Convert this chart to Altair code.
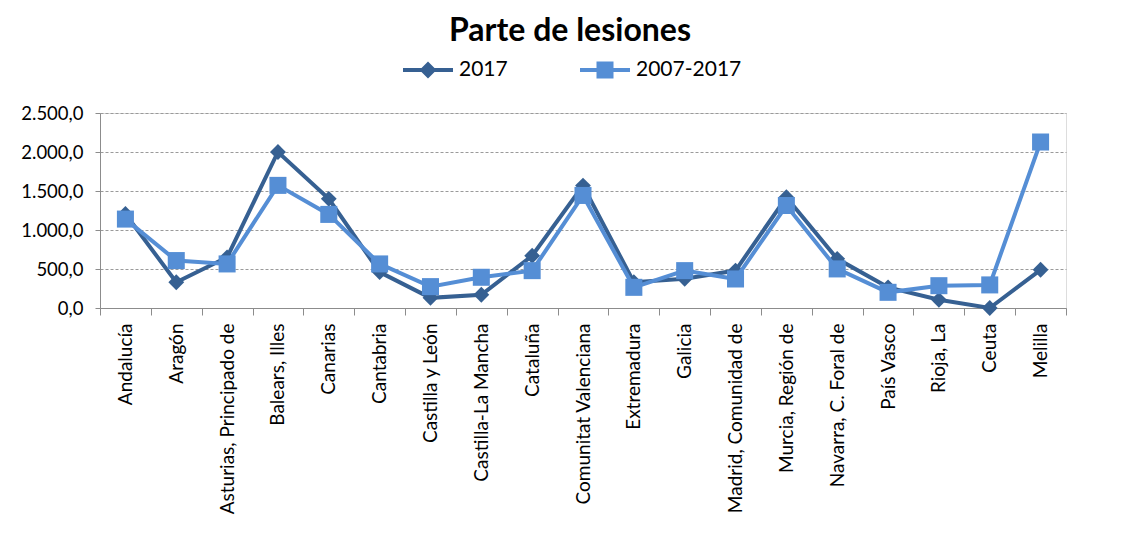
import altair as alt
import pandas as pd

categories = [
    "Andalucía", "Aragón", "Asturias, Principado de", "Balears, Illes", "Canarias",
    "Cantabria", "Castilla y León", "Castilla-La Mancha", "Cataluña",
    "Comunitat Valenciana", "Extremadura", "Galicia", "Madrid, Comunidad de",
    "Murcia, Región de", "Navarra, C. Foral de", "País Vasco", "Rioja, La",
    "Ceuta", "Melilla",
]
v2017 = [1205, 330, 650, 2000, 1400, 460, 130, 170, 670, 1570, 330, 375, 480,
         1420, 630, 265, 105, 0, 490]
v0717 = [1140, 608, 565, 1572, 1200, 565, 274, 394, 479, 1443, 265, 479, 372,
         1314, 501, 201, 286, 296, 2128]
series = ["2017", "2007-2017"]
colors = ["#366092", "#558ED5"]
shapes = ["diamond", "square"]

rows = []
for s, vals in zip(series, [v2017, v0717]):
    for c, v in zip(categories, vals):
        rows.append({"region": c, "valor": v, "serie": s})
df = pd.DataFrame(rows)

FONT = "Lato"

legend_paths = [
    "M-1,-0.08H1V0.08H-1Z M0,-0.34L0.34,0L0,0.34L-0.34,0Z",
    "M-1,-0.08H1V0.08H-1Z M-0.34,-0.34H0.34V0.34H-0.34Z",
]

x_enc = alt.X(
    "region:N",
    sort=categories,
    title=None,
    scale=alt.Scale(type="band", paddingInner=0, paddingOuter=0),
    axis=alt.Axis(
        labelAngle=-90,
        labelFontSize=19,
        labelFont=FONT,
        labelColor="#000000",
        labelPadding=8,
        labelLimit=300,
        tickBand="extent",
        tickSize=7,
        tickColor="#8c8c8c",
        domainColor="#8c8c8c",
        grid=False,
    ),
)
y_enc = alt.Y(
    "valor:Q",
    title=None,
    scale=alt.Scale(domain=[0, 2500], nice=False),
    axis=alt.Axis(
        values=[0, 500, 1000, 1500, 2000, 2500],
        labelExpr="replace(replace(replace(format(datum.value, ',.1f'), ',', '#'), '.', ','), '#', '.')",
        labelFontSize=18.5,
        labelFont=FONT,
        labelColor="#000000",
        labelPadding=12,
        tickSize=5,
        tickColor="#8c8c8c",
        domainColor="#8c8c8c",
        gridColor="#9a9a9a",
        gridDash=[3, 2],
        gridWidth=1,
    ),
)

legend = alt.Legend(
    title=None,
    orient="none",
    direction="horizontal",
    legendX=303,
    legendY=-68,
    labelFont=FONT,
    labelFontSize=21,
    labelColor="#000000",
    labelOffset=6,
    columnPadding=72,
    symbolSize=2500,
    symbolStrokeWidth=0,
    symbolOpacity=1,
)

base = alt.Chart(df)


def series_layers(name, color, shape, size):
    sub = base.transform_filter(alt.datum.serie == name)
    ln = sub.mark_line(strokeWidth=4, color=color).encode(x=x_enc, y=y_enc)
    pt = sub.mark_point(filled=True, opacity=1, size=size, shape=shape, color=color).encode(
        x=x_enc, y=y_enc
    )
    return [ln, pt]


legend_layer = base.transform_filter("datum.valor < -1").mark_point(filled=True, opacity=1).encode(
    x=x_enc,
    y=y_enc,
    color=alt.Color("serie:N", sort=series, scale=alt.Scale(domain=series, range=colors), legend=legend),
    shape=alt.Shape("serie:N", sort=series, scale=alt.Scale(domain=series, range=legend_paths), legend=legend),
)

layers = (
    series_layers(series[0], colors[0], shapes[0], 250)
    + series_layers(series[1], colors[1], shapes[1], 290)
    + [legend_layer]
)

chart = (
    alt.layer(*layers)
    .properties(
        width=966,
        height=195,
        title=alt.TitleParams(
            "Parte de lesiones",
            font=FONT,
            fontSize=32,
            fontWeight="bold",
            color="#000000",
            anchor="middle",
            offset=-3,
            dx=-13,
        ),
        autosize=alt.AutoSizeParams(type="none"),
        padding={"left": 92, "top": 105, "right": 58, "bottom": 230},
    )
    .configure_view(stroke=None)
    .configure(background="white")
)

chart.save("out.html", embed_options={"renderer": "svg", "actions": False})
